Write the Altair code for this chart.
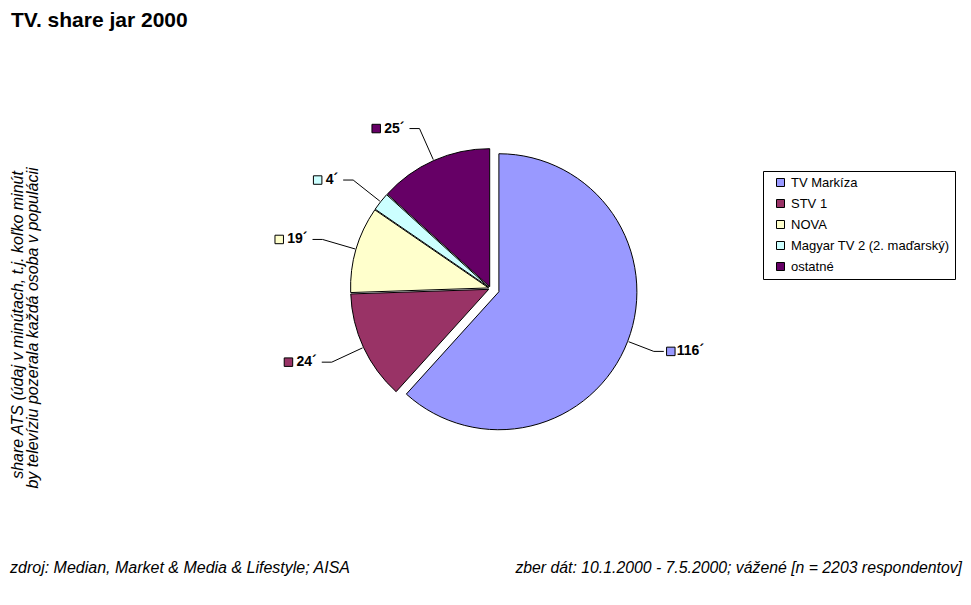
import math
import altair as alt
import pandas as pd

# ---- data ----
categories = ["TV Markíza", "STV 1", "NOVA", "Magyar TV 2 (2. maďarský)", "ostatné"]
minutes = [116, 24, 19, 4, 25]
label_texts = ["116´", "24´", "19´", "4´", "25´"]
colors = ["#9999FF", "#993366", "#FFFFCC", "#CCFFFF", "#660066"]

title_text = "TV. share jar 2000"
axis_note = ["share ATS (údaj v minútach, t.j. koľko minút",
             "by televíziu pozerala každá osoba v populácii"]
source_text = "zdroj: Median, Market & Media & Lifestyle; AISA"
sample_text = "zber dát: 10.1.2000 - 7.5.2000; vážené [n = 2203 respondentov]"

# ---- layout (pixels) ----
W, H = 955, 589
CX, CY = 482.5, 280.5
R = 138
EXPLODE_MAIN, EXPLODE_REST = 9, 2
LABEL_R = 175
TAIL = 10
FONT = "Liberation Sans"

total = sum(minutes)
rows, leaders, labels = [], [], []
cum = 0
for i, (cat, v, lab) in enumerate(zip(categories, minutes, label_texts)):
    start, end = cum, cum + v
    cum = end
    mid = (start + end) / 2 / total * 2 * math.pi
    sx, sy = math.sin(mid), -math.cos(mid)
    e = EXPLODE_MAIN if i == 0 else EXPLODE_REST
    cx, cy = CX + e * sx, CY + e * sy
    rows.append(dict(cat=cat, value=v, start=start, end=end, cx=cx, cy=cy))
    ex, ey = cx + (R + 1) * sx, cy + (R + 1) * sy
    px, py = CX + LABEL_R * sx, CY + LABEL_R * sy
    right = sx > 0
    tx = px + TAIL if right else px - TAIL
    leaders.append(dict(cat=cat, x=ex, y=ey, x2=px, y2=py))
    leaders.append(dict(cat=cat, x=px, y=py, x2=tx, y2=py))
    tw = 7.8 * (len(lab) - 1) + 4.7
    if right:
        labels.append(dict(cat=cat, text=lab, side="R", sqx=tx + 7, textx=tx + 13, y=py))
    else:
        labels.append(dict(cat=cat, text=lab, side="L", sqx=tx - 5 - tw - 8, textx=tx - 5, y=py))

slices = pd.DataFrame(rows)
lead_df = pd.DataFrame(leaders)
lab_df = pd.DataFrame(labels)

px_x = lambda f: alt.X(f, scale=None, axis=None)
px_y = lambda f: alt.Y(f, scale=None, axis=None)
color_scale = alt.Scale(domain=categories, range=colors)

arcs = alt.Chart(slices).mark_arc(radius=R, stroke="black", strokeWidth=1).encode(
    x=px_x("cx:Q"),
    y=px_y("cy:Q"),
    theta=alt.Theta("start:Q", scale=alt.Scale(domain=[0, total], range=[0, 2 * math.pi])),
    theta2="end:Q",
    color=alt.Color("cat:N", scale=color_scale, sort=categories,
                    legend=alt.Legend(title=None, orient="none", legendX=755, legendY=163,
                                      direction="vertical")),
)

lead = alt.Chart(lead_df).mark_rule(color="black", strokeWidth=1).encode(
    x=px_x("x:Q"), y=px_y("y:Q"), x2="x2:Q", y2="y2:Q"
)

squares = alt.Chart(lab_df).mark_square(size=72, stroke="black", strokeWidth=1, opacity=1,
                                        filled=True).encode(
    x=px_x("sqx:Q"), y=px_y("y:Q"),
    fill=alt.Fill("cat:N", scale=color_scale, legend=None),
)

lab_right = alt.Chart(lab_df).transform_filter(alt.datum.side == "R").mark_text(
    align="left", baseline="middle", font=FONT, fontSize=14, fontWeight="bold", color="black"
).encode(x=px_x("textx:Q"), y=px_y("y:Q"), text="text:N")

lab_left = alt.Chart(lab_df).transform_filter(alt.datum.side == "L").mark_text(
    align="right", baseline="middle", font=FONT, fontSize=14, fontWeight="bold", color="black"
).encode(x=px_x("textx:Q"), y=px_y("y:Q"), text="text:N")

title = alt.Chart(pd.DataFrame({"t": [title_text]})).mark_text(
    align="left", baseline="alphabetic", font=FONT, fontSize=21, fontWeight="bold", color="black"
).encode(x=alt.value(3), y=alt.value(19), text="t:N")

note1 = alt.Chart(pd.DataFrame({"t": [axis_note[0]]})).mark_text(
    align="center", baseline="alphabetic", angle=270, font=FONT, fontSize=16,
    fontStyle="italic", color="black"
).encode(x=alt.value(15), y=alt.value(317), text="t:N")

note2 = alt.Chart(pd.DataFrame({"t": [axis_note[1]]})).mark_text(
    align="center", baseline="alphabetic", angle=270, font=FONT, fontSize=16,
    fontStyle="italic", color="black"
).encode(x=alt.value(30), y=alt.value(320), text="t:N")

src = alt.Chart(pd.DataFrame({"t": [source_text]})).mark_text(
    align="left", baseline="alphabetic", font=FONT, fontSize=16, fontStyle="italic", color="black"
).encode(x=alt.value(2), y=alt.value(565), text="t:N")

smp = alt.Chart(pd.DataFrame({"t": [sample_text]})).mark_text(
    align="right", baseline="alphabetic", font=FONT, fontSize=15.8, fontStyle="italic", color="black"
).encode(x=alt.value(954), y=alt.value(565), text="t:N")

chart = alt.layer(arcs, lead, squares, lab_right, lab_left, title, note1, note2, src, smp).properties(
    width=W, height=H, autosize=alt.AutoSizeParams(type="none"), padding=0, background="white"
).resolve_scale(color="independent").configure_view(stroke=None).configure_legend(
    strokeColor="black", fillColor="white", padding=5, cornerRadius=0,
    symbolType="square", symbolSize=64, symbolStrokeColor="black", symbolStrokeWidth=1,
    symbolOffset=6, labelOffset=4, labelFont=FONT, labelFontSize=13, labelColor="black",
    labelLimit=400, rowPadding=7,
)

chart.save("out.html", embed_options={"renderer": "svg", "actions": False})
